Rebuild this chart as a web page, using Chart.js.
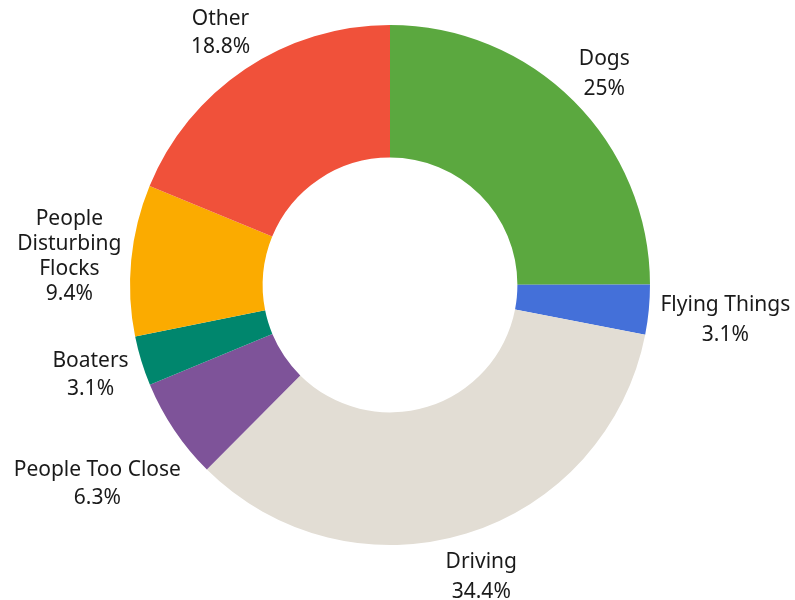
<!DOCTYPE html>
<html>
<head>
<meta charset="utf-8">
<script src="https://cdn.jsdelivr.net/npm/chart.js@4.4.1/dist/chart.umd.min.js"></script>
<style>
  html, body { margin: 0; padding: 0; background: #ffffff; }
  #wrap { width: 795px; height: 600px; }
</style>
</head>
<body>
<div id="wrap"><canvas id="chart" width="795" height="600"></canvas></div>
<script>
// Causes of disturbance, share of incidents (%)
const categories = ['Dogs', 'Flying Things', 'Driving', 'People Too Close', 'Boaters', 'People Disturbing Flocks', 'Other'];
const shares = [25, 3.1, 34.4, 6.3, 3.1, 9.4, 18.8];
const sliceColors = ['#5ba83f', '#4470d9', '#e2ddd4', '#7e5399', '#00866d', '#fbab00', '#f0513a'];

// how each category name wraps onto lines
const wrapAt = { 'People Disturbing Flocks': ['People', 'Disturbing', 'Flocks'] };
// small hand nudges for labels that would otherwise crowd the ring
const nudge = {
  'People Too Close': [5, 30],
  'People Disturbing Flocks': [5, 3],
  'Boaters': [0, 1],
  'Flying Things': [-3, 6],
  'Dogs': [2, 5]
};

const FONT = '21px "Noto Sans", sans-serif';
const GAP = 15;

const outsideLabels = {
  id: 'outsideLabels',
  afterDatasetsDraw(chart) {
    const ctx = chart.ctx;
    const meta = chart.getDatasetMeta(0);
    ctx.save();
    ctx.font = FONT;
    ctx.fillStyle = '#1a1a1a';
    ctx.textAlign = 'center';
    ctx.textBaseline = 'middle';
    meta.data.forEach((arc, i) => {
      const name = chart.data.labels[i];
      const lines = (wrapAt[name] || [name]).concat([chart.data.datasets[0].data[i] + '%']);
      const mid = (arc.startAngle + arc.endAngle) / 2;
      const dx = Math.cos(mid), dy = Math.sin(mid);
      const lineH = lines.length > 2 ? 25 : (dx > 0 ? 30 : 28);
      const w = Math.max(...lines.map(l => ctx.measureText(l).width));
      const h = lines.length * lineH;
      const r = arc.outerRadius + GAP;
      let cx = arc.x + dx * r + dx * w / 2;
      let cy = arc.y + dy * r + dy * h / 2;
      const n = nudge[name];
      if (n) { cx += n[0]; cy += n[1]; }
      lines.forEach((l, k) => {
        ctx.fillText(l, cx, cy - h / 2 + lineH * (k + 0.5));
      });
    });
    ctx.restore();
  }
};

new Chart(document.getElementById('chart'), {
  type: 'doughnut',
  data: {
    labels: categories,
    datasets: [{
      data: shares,
      backgroundColor: sliceColors,
      borderWidth: 0,
      hoverOffset: 0
    }]
  },
  options: {
    responsive: false,
    animation: false,
    cutout: '49%',
    layout: { padding: { top: 25, bottom: 55, left: 130, right: 145 } },
    plugins: {
      legend: { display: false },
      tooltip: { enabled: false }
    }
  },
  plugins: [outsideLabels]
});
</script>
</body>
</html>
